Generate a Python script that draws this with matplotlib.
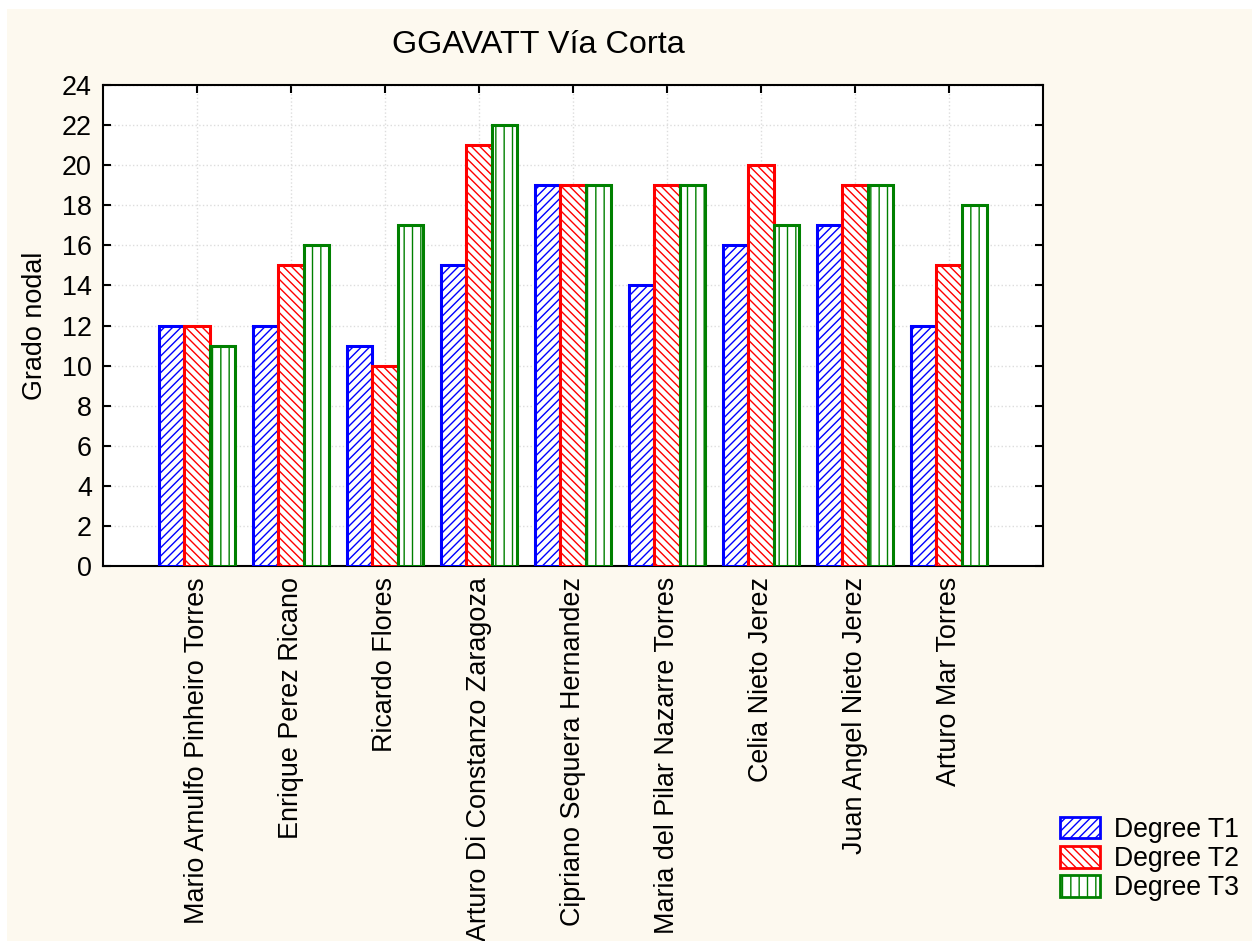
import matplotlib
matplotlib.use("Agg")
import matplotlib.pyplot as plt
import matplotlib.patches as mpatches
import numpy as np

plt.rcParams['font.family'] = ['Liberation Sans', 'DejaVu Sans']
plt.rcParams['hatch.linewidth'] = 1.0

categories = ["Mario Arnulfo Pinheiro Torres", "Enrique Perez Ricano", "Ricardo Flores",
              "Arturo Di Constanzo Zaragoza", "Cipriano Sequera Hernandez",
              "Maria del Pilar Nazarre Torres", "Celia Nieto Jerez",
              "Juan Angel Nieto Jerez", "Arturo Mar Torres"]
degree_t1 = [12, 12, 11, 15, 19, 14, 16, 17, 12]
degree_t2 = [12, 15, 10, 21, 19, 19, 20, 19, 15]
degree_t3 = [11, 16, 17, 22, 19, 19, 17, 19, 18]
series_names = ["Degree T1", "Degree T2", "Degree T3"]
yticks = list(range(0, 25, 2))

bg = '#fdf9ef'
fig = plt.figure(figsize=(12.52, 9.41), dpi=100, facecolor=bg)
# thin white strips at top and left edges
fig.patches.append(mpatches.Rectangle((0, 0), 7/1252, 1, transform=fig.transFigure,
                                      facecolor='white', edgecolor='none', zorder=-10))
fig.patches.append(mpatches.Rectangle((0, 1 - 9/941), 1, 9/941, transform=fig.transFigure,
                                      facecolor='white', edgecolor='none', zorder=-10))
ax = fig.add_axes([103/1252, 1 - 566/941, 940/1252, 481/941])
ax.set_facecolor('white')

x = np.arange(len(categories))
w = 0.27
styles = [('#0000ff', '////'), ('#ff0000', '\\\\\\\\'), ('#008000', '||')]
for i, (vals, (col, h), name) in enumerate(zip([degree_t1, degree_t2, degree_t3], styles, series_names)):
    ax.bar(x + (i - 1) * w, vals, width=w, facecolor='white', edgecolor=col, hatch=h,
           linewidth=2.2, label=name, zorder=3)

ax.set_xlim(-1, len(categories))
ax.set_ylim(0, 24)
ax.set_yticks(yticks)
ax.set_xticks(x)
ax.set_xticklabels(categories, rotation=90, fontsize=19.4)
ax.tick_params(axis='y', labelsize=19.4, direction='in', right=True, length=6, width=1.5, pad=8)
ax.tick_params(axis='x', direction='in', top=True, length=6, width=1.5, pad=8)
ax.grid(True, color='#dddddd', linestyle=':', linewidth=1, zorder=0)
for s in ax.spines.values():
    s.set_linewidth(1.5)
ax.set_ylabel("Grado nodal", fontsize=19.4, labelpad=10)

fig.text(538/1252, 1 - 45/941, "GGAVATT Vía Corta", fontsize=23.3, ha='center', va='center')

handles = [mpatches.Patch(facecolor='white', edgecolor=c, hatch=h, linewidth=2) for c, h in styles]
fig.legend(handles, series_names, loc='lower right', bbox_to_anchor=(1250/1252, 29/941),
           frameon=False, fontsize=19.2, handlelength=1.5, handleheight=0.85,
           handletextpad=0.55, labelspacing=0.12, borderaxespad=0)

fig.savefig("out.png", dpi=100, facecolor=fig.get_facecolor())
